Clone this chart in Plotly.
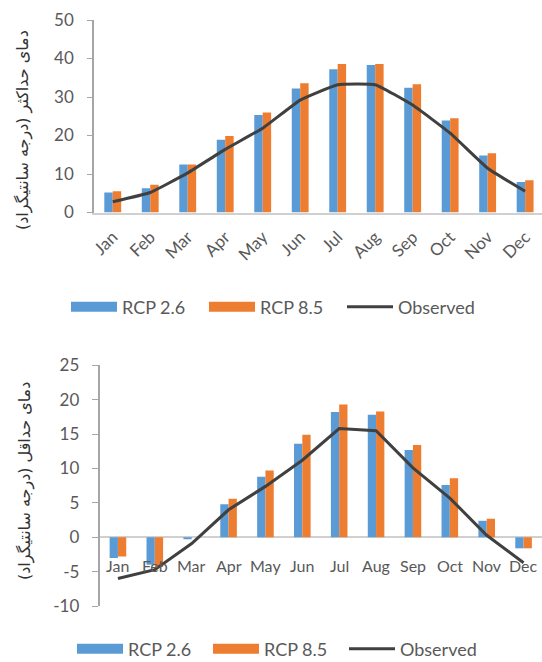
import plotly.graph_objects as go

months = ["Jan", "Feb", "Mar", "Apr", "May", "Jun", "Jul", "Aug", "Sep", "Oct", "Nov", "Dec"]

# Maximum temperature
rcp26_max = [5.2, 6.3, 12.5, 18.9, 25.3, 32.2, 37.2, 38.3, 32.4, 23.9, 14.8, 7.9]
rcp85_max = [5.5, 7.2, 12.5, 19.9, 26.0, 33.6, 38.6, 38.6, 33.3, 24.5, 15.4, 8.4]
obs_max = [2.8, 5.2, 10.3, 16.4, 21.9, 29.2, 33.2, 33.2, 27.9, 20.6, 11.5, 5.5]
yticks_max = [0, 10, 20, 30, 40, 50]

# Minimum temperature
rcp26_min = [-3.0, -4.0, -0.2, 4.8, 8.8, 13.6, 18.2, 17.8, 12.7, 7.6, 2.4, -1.6]
rcp85_min = [-2.8, -4.3, 0.0, 5.6, 9.7, 14.9, 19.3, 18.3, 13.4, 8.6, 2.7, -1.6]
obs_min = [-6.0, -4.7, -0.9, 4.0, 7.4, 11.2, 15.8, 15.5, 10.1, 5.7, 0.3, -3.7]
yticks_min = [-10, -5, 0, 5, 10, 15, 20, 25]

title_max = "دمای حداکثر (درجه سانتیگراد)\u200f"
title_min = "دمای حداقل (درجه سانتیگراد)\u200f"

BLUE = "#5B9BD5"
ORANGE = "#ED7D31"
LINE = "#404040"
TICK = "#595959"
FONT = "Lato"

W, H = 542, 662

fig = go.Figure()

def add_panel(xa, ya, leg, r26, r85, obs, shape, smooth):
    fig.add_trace(go.Bar(x=months, y=r26, name="RCP 2.6", marker=dict(color=BLUE, line=dict(width=0)),
                         xaxis=xa, yaxis=ya, showlegend=False, offsetgroup="a"))
    fig.add_trace(go.Bar(x=months, y=r85, name="RCP 8.5", marker=dict(color=ORANGE, line=dict(width=0)),
                         xaxis=xa, yaxis=ya, showlegend=False, offsetgroup="b"))
    line = dict(color=LINE, width=3, shape=shape)
    if shape == "spline":
        line["smoothing"] = smooth
    fig.add_trace(go.Scatter(x=months, y=obs, name="Observed", mode="lines",
                             line=line, xaxis=xa, yaxis=ya, showlegend=False))
    # legend-only entries (wide swatches like Excel)
    for nm, col, wd in [("RCP 2.6", BLUE, 12), ("RCP 8.5", ORANGE, 12), ("Observed", LINE, 3)]:
        fig.add_trace(go.Scatter(x=[None], y=[None], name=nm, mode="lines",
                                 line=dict(color=col, width=wd), xaxis=xa, yaxis=ya,
                                 legend=leg, showlegend=True, hoverinfo="skip"))

add_panel("x", "y", "legend", rcp26_max, rcp85_max, obs_max, "spline", 0.35)
add_panel("x2", "y2", "legend2", rcp26_min, rcp85_min, obs_min, "linear", 0)

def py(p):
    return 1 - p / H

# Month labels of the lower panel sit next to the zero line
annotations = []
for m in months:
    annotations.append(dict(x=m, y=0, xref="x2", yref="y2", text=m, showarrow=False,
                            xanchor="center", yanchor="middle", yshift=-28,
                            font=dict(family=FONT, size=16, color=TICK)))

annotations.append(dict(x=23 / W, y=py(130), xref="paper", yref="paper", text=title_max,
                        textangle=-90, showarrow=False, xanchor="center", yanchor="middle",
                        font=dict(family="DejaVu Sans", size=16, color="#333333")))
annotations.append(dict(x=25 / W, y=py(481), xref="paper", yref="paper", text=title_min,
                        textangle=-90, showarrow=False, xanchor="center", yanchor="middle",
                        font=dict(family="DejaVu Sans", size=16, color="#333333")))

legend_common = dict(orientation="h", xanchor="left", yanchor="middle", itemwidth=46,
                     font=dict(family=FONT, size=18, color=TICK), bgcolor="rgba(0,0,0,0)",
                     traceorder="normal", entrywidthmode="pixels",
                     xref="container", yref="container")

fig.update_layout(
    template="none",
    width=W, height=H,
    margin=dict(l=0, r=0, t=0, b=0, autoexpand=False),
    paper_bgcolor="white", plot_bgcolor="white",
    barmode="group", bargap=0.55, bargroupgap=0,
    showlegend=True,
    legend=dict(x=66 / W, y=py(307), entrywidth=77, **legend_common),
    legend2=dict(x=72 / W, y=py(649), entrywidth=75, **legend_common),
    annotations=annotations,
    xaxis=dict(domain=[94 / W, 1], range=[-0.5, 11.45], type="category",
               showline=True, linecolor="#D0D0D0", linewidth=2, ticks="",
               tickangle=-45, tickfont=dict(family=FONT, size=17, color=TICK),
               ticklabelstandoff=6,
               showgrid=False, zeroline=False, anchor="y", fixedrange=True, automargin=False),
    yaxis=dict(domain=[py(212.5), py(20)], range=[0, 50],
               tickvals=yticks_max, ticktext=[str(v) for v in yticks_max],
               showline=True, linecolor="#A6A6A6", linewidth=1.5, ticks="outside",
               ticklen=5, tickcolor="#A6A6A6", tickfont=dict(family=FONT, size=17, color=TICK),
               ticklabelstandoff=10,
               showgrid=False, zeroline=False, anchor="x", fixedrange=True, automargin=False),
    xaxis2=dict(domain=[99.5 / W, 1], range=[-0.5, 11.5], type="category",
                showline=False, showticklabels=False, ticks="",
                showgrid=False, zeroline=False, anchor="y2", fixedrange=True, automargin=False),
    yaxis2=dict(domain=[py(606.1), py(365.3)], range=[-10, 25],
                tickvals=yticks_min, ticktext=[str(v) for v in yticks_min],
                showline=True, linecolor="#A6A6A6", linewidth=1.5, ticks="outside",
                ticklen=6, tickcolor="#A6A6A6", tickfont=dict(family=FONT, size=17, color=TICK),
                ticklabelstandoff=9,
                showgrid=False, zeroline=True, zerolinecolor="#D0D0D0", zerolinewidth=2,
                anchor="x2", fixedrange=True, automargin=False),
)

fig.write_html("out.html", config={"displayModeBar": False},
               post_script="document.body.style.margin='0';document.body.style.overflow='hidden';")
